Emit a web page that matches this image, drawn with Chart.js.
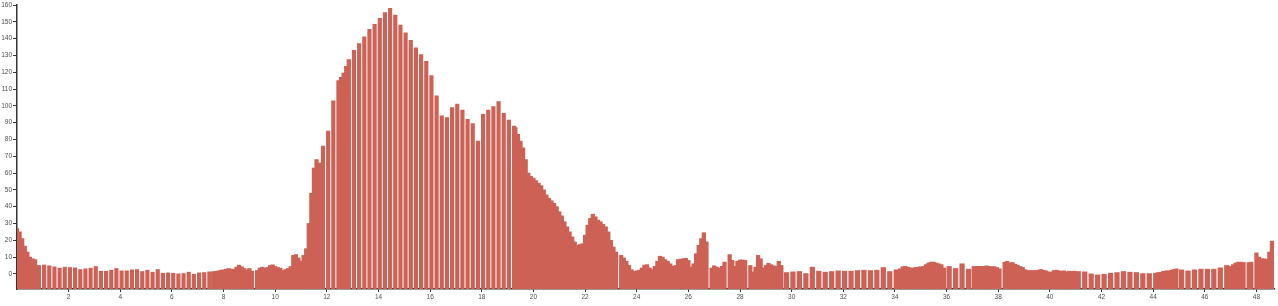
<!DOCTYPE html>
<html>
<head>
<meta charset="utf-8">
<script src="https://cdn.jsdelivr.net/npm/chart.js@4/dist/chart.umd.min.js"></script>
<style>
  html, body { margin: 0; padding: 0; background: #fff; }
  #wrap { width: 1278px; height: 306px; }
</style>
</head>
<body>
<div id="wrap"><canvas id="c" width="1278" height="306"></canvas></div>
<script>
// ---- data (x in axis units, y values) ----
const segStarts = [0, 0.85, 7.6, 11.85, 12.45, 13.05, 19.3, 29.8, 34.2, 36.1, 37.05, 41.1, 44.2, 45.1, 47.0];
const segSteps  = [0.1, 0.2, 0.1, 0.2, 0.1, 0.2, 0.1, 0.25, 0.1, 0.25, 0.1, 0.25, 0.1, 0.25, 0.1];

const seg0 = [27, 25, 21, 16.5, 13, 10, 9, 8.5];
const seg1 = [5, 5.3, 4.8, 4.2, 3.4, 4, 3.8, 3.6, 2.6, 3, 3.4, 4.4, 1.6, 1.6, 2.2, 3.2, 1.8, 1.8, 2.4, 2.6,
              1.4, 2.2, 1, 2.6, 0.4, 0.6, 0.4, 0, 0.2, 1, -0.2, 0.6, 0.8, 1.2];
const seg2 = [1.3, 1.5, 1.8, 2.2, 2.4, 2.8, 3.2, 2.8, 2.6, 4, 5.2, 4.2, 3.2, 2.4, 3.2, 1.6, null, 2, 3.4, 4,
              3.4, 3.8, 5, 5.4, 4.4, 3.8, 3.4, 2, 2.6, 3.2, 4.4, 11, 11.5, 9.5, 7.5, 11, 15, 30, 48, 63, 68, 66];
const seg3 = [76, 85, 103];
const seg4 = [115, 117, 119.5, 123.5, 127.5];
const seg5 = [133, 137, 141, 145.5, 148.5, 152, 155.5, 158, 154, 148, 143.5, 139, 134.5, 130.5, 126.5, 118,
              106, 94, 93, 99, 101, 97.5, 92, 89.5, 79, 95, 97.5, 99.5, 102.5, 95.5, 91.5, 88];
const seg6 = [87, 83, 79, 75, 68, 60, 58, 57, 55.5, 54,
              52.5, 50, 47, 45, 43.5, 42, 40, 37, 34.5, 31,
              28, 25, 22, 19, 17, 17.5, 18, 23, 29, 33,
              35.5, 34, 32, 31, 29.5, 28, 25, 20, 16, 13,
              null, 11, 9.5, 7.5, 5, 2.5, 1.5, 1.8, 2.2, 3.5,
              5.2, 5.5, 3.5, 2.5, 4.5, 7.5, 10.5, 10, 8.5, 7.5,
              6, 4.5, 5, 8.5, 8.8, 9, 9.3, 8, 4, 6,
              12, 17, 21, 24.5, 19, null, 3.5, 4.8, 4, 3.4,
              4.5, 7, null, 11.5, 8, 4.5, 7.5, 8.3, 8.3, 8,
              null, 5, 1, 4, 11, 9, 3.5, 5, 6.3, 5.5,
              4.8, 4.4, 7.5, 5];
const seg7 = [0.8, 1.2, 1.4, 0.2, 4, 1.6, 1, 1.4, 1.8, 1.6, 1.6, 2, 2.2, 2, 2.2, 3.8, 1.4, 2.4];
const seg8 = [3, 4.2, 4.5, 4, 3.6, 3.4, 3.8, 4, 4.2, 4.4, 5.5, 6.5, 7, 7, 6.5, 6, 5.5, 3.5];
const seg9 = [4.4, 3.2, 6, 2.8];
const seg10 = [4.4, 4.5, 4.5, 4.4, 4.4, 4.8, 4.5, 4.2, 4.3, 3.8, 3, null, 7, 7.5, 6.5, 6.8, 5.8, 5.2, 4.4, 3.8,
               2.5, 2, 2, 2, 2, 2.2, 2.6, 2.2, 1.8, 1.2, 1, 2, 2.2, 1.8, 1.6, 1.8, 1.2, 1.6, 1.5, 1.6];
const seg11 = [1.4, 1.2, 0, -0.6, -0.2, 0.4, 0.8, 1.4, 1, 0.8, 0.2, 0.2, 0.4];
const seg12 = [0.8, 1, 1.5, 1.8, 1.8, 2.2, 2.6, 3];
const seg13 = [2.4, 1.8, 2.4, 2.8, 2.8, 2.8, 3.6, 5];
const seg14 = [4.4, 5.5, 6.5, 7, 7, 6.8, null, 6.7, 7, null, 12.5, 10, 9, 9, 8.7, 13, 19.5];

const segValues = [seg0, seg1, seg2, seg3, seg4, seg5, seg6, seg7, seg8, seg9, seg10, seg11, seg12, seg13, seg14];

const xTickValues = [2, 4, 6, 8, 10, 12, 14, 16, 18, 20, 22, 24, 26, 28, 30, 32, 34, 36, 38, 40, 42, 44, 46, 48];
const yTickValues = [0, 10, 20, 30, 40, 50, 60, 70, 80, 90, 100, 110, 120, 130, 140, 150, 160];

const X_MIN = 0, X_MAX = 48.68, Y_MIN = -9, Y_MAX = 160;

// ---- styling ----
const BAR_COLOR = '#cd6155';
const AXIS_COLOR = '#333';
const LABEL_COLOR = '#4d4d4d';
function thicknessFor(step) {
  if (step <= 0.1) return 3.6;
  if (step <= 0.2) return 3.5;
  return 4.6;
}

const datasets = segValues.map((vals, s) => ({
  data: vals.map((v, i) => ({ x: Math.round((segStarts[s] + i * segSteps[s]) * 1000) / 1000, y: v }))
            .filter(p => p.y !== null),
  backgroundColor: BAR_COLOR,
  borderWidth: 0,
  barThickness: thicknessFor(segSteps[s]),
  grouped: false,
  base: Y_MIN
}));

const font = { family: "'Liberation Sans', Arial, sans-serif", size: 6.5 };

new Chart(document.getElementById('c'), {
  type: 'bar',
  data: { datasets },
  options: {
    responsive: false,
    animation: false,
    events: [],
    layout: { padding: { left: 0, right: 4, top: 5, bottom: 0 } },
    plugins: { legend: { display: false }, tooltip: { enabled: false } },
    scales: {
      x: {
        type: 'linear',
        offset: false,
        min: X_MIN, max: X_MAX,
        z: 1,
        afterBuildTicks: (scale) => { scale.ticks = xTickValues.map(v => ({ value: v })); },
        afterFit: (scale) => { scale.height = 17; },
        ticks: { font, color: LABEL_COLOR, padding: 1, maxRotation: 0, autoSkip: false,
                 callback: (v) => String(v) },
        grid: { offset: false, drawOnChartArea: false, drawTicks: true, tickLength: 3, color: AXIS_COLOR, lineWidth: 1 },
        border: { display: true, color: AXIS_COLOR, width: 1.5 }
      },
      y: {
        type: 'linear',
        min: Y_MIN, max: Y_MAX,
        z: 1,
        afterBuildTicks: (scale) => { scale.ticks = yTickValues.map(v => ({ value: v })); },
        afterFit: (scale) => { scale.width = 17; },
        ticks: { font, color: LABEL_COLOR, padding: 1, autoSkip: false,
                 callback: (v) => String(v) },
        grid: { drawOnChartArea: false, drawTicks: true, tickLength: 4, color: AXIS_COLOR, lineWidth: 1 },
        border: { display: true, color: AXIS_COLOR, width: 1.5 }
      }
    }
  }
});
</script>
</body>
</html>
